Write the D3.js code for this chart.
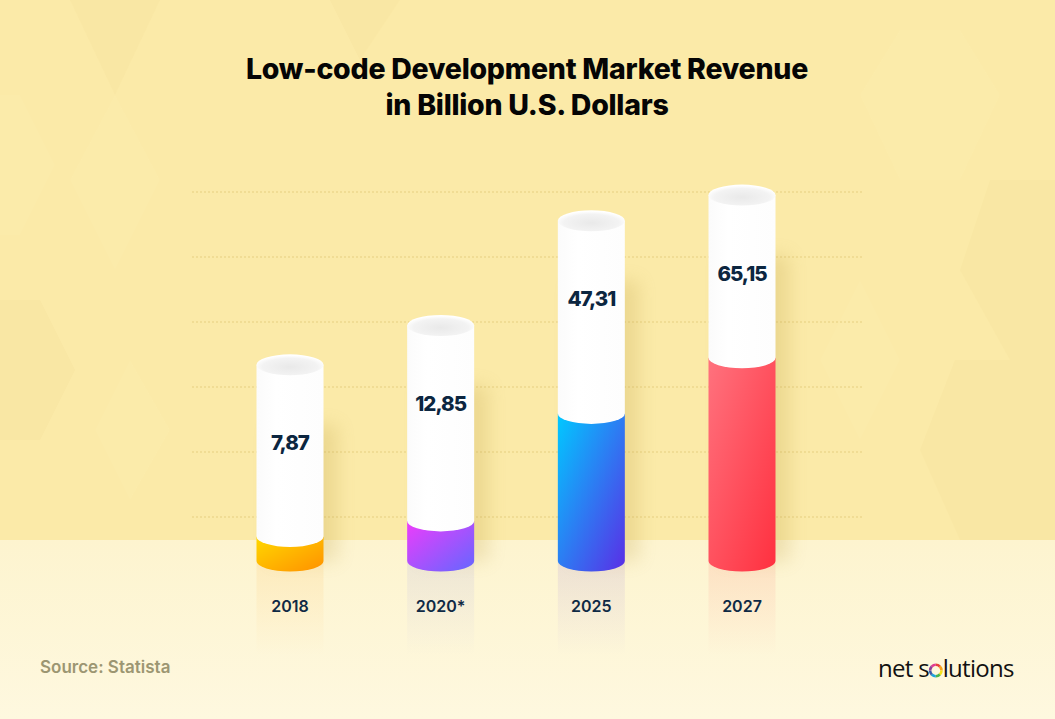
<!DOCTYPE html>
<html>
<head>
<meta charset="utf-8">
<script src="https://cdn.jsdelivr.net/npm/d3@7"></script>
<style>
  html, body { margin: 0; padding: 0; background: #fbeaa8; }
  svg { display: block; }
</style>
</head>
<body>
<svg id="chart" width="1055" height="719"></svg>
<script>
// ---------- DATA ----------
const categories = ["2018", "2020*", "2025", "2027"];
const values = [7.87, 12.85, 47.31, 65.15];
const valueLabels = ["7,87", "12,85", "47,31", "65,15"];
const gridTicks = [1, 2, 3, 4, 5, 6];
const titleLines = ["Low-code Development Market Revenue", "in Billion U.S. Dollars"];
const sourceText = "Source: Statista";
const brandText = "net solutions";
const barColors = [
  ["#ffd800", "#ff9100"],
  ["#ee3cfb", "#6467ff"],
  ["#00c9ff", "#5a2ee6"],
  ["#ff727e", "#ff303f"]
];

// ---------- SETUP ----------
const W = 1055, H = 719;
const svg = d3.select("#chart");
const defs = svg.append("defs");

const baseY = 561;      // centre of the bottom ellipse
const floorY = 540;
const barW = 67;
const ry = 10.5;

const x = d3.scalePoint().domain(categories).range([290, 742]);
// liquid level (linear in value)
const y = d3.scaleLinear().domain([0, 70]).range([baseY, baseY - 70 * 3.12]);
// decorative tube height (log of value)
const yTube = d3.scaleLog().domain([1, 100]).range([baseY - 30.5, baseY - 30.5 - 369.8]);
const yGrid = d3.scaleLinear().domain([0, 6]).range([582, 192]);

// ---------- BACKGROUND ----------
const floorGrad = defs.append("linearGradient").attr("id", "floorGrad")
  .attr("x1", 0).attr("y1", 0).attr("x2", 0).attr("y2", 1);
floorGrad.append("stop").attr("offset", 0).attr("stop-color", "#fdf4cf");
floorGrad.append("stop").attr("offset", 1).attr("stop-color", "#fef8df");

svg.append("rect").attr("width", W).attr("height", floorY).attr("fill", "#fbeaa8");

// subtle hexagon / chevron facets on the wall
const facets = [
  [[0,95],[20,95],[55,165],[20,235],[0,235]],
  [[120,0],[160,0],[115,95],[70,0]],
  [[115,95],[160,180],[115,270],[70,180]],
  [[330,0],[400,0],[360,60]],
  [[900,30],[960,30],[1000,95],[960,180],[900,180],[860,95]],
  [[990,180],[1055,180],[1055,360],[1010,360],[960,270]],
  [[860,280],[900,360],[860,440],[820,360]],
  [[0,300],[40,300],[75,370],[40,440],[0,440]],
  [[130,360],[170,430],[130,500],[95,430]],
  [[955,360],[1055,360],[1055,540],[960,540],[920,450]]
];
svg.append("g").selectAll("path").data(facets).join("path")
  .attr("d", d => "M" + d.map(p => p.join(",")).join("L") + "Z")
  .attr("fill", (d, i) => i % 2 ? "#efd98a" : "#fff3bd")
  .attr("opacity", 0.12);

svg.append("rect").attr("y", floorY).attr("width", W).attr("height", H - floorY)
  .attr("fill", "url(#floorGrad)");

// ---------- GRIDLINES ----------
svg.append("g").selectAll("line").data(gridTicks).join("line")
  .attr("x1", 192).attr("x2", 863)
  .attr("y1", d => yGrid(d)).attr("y2", d => yGrid(d))
  .attr("stroke", "#e6cf80").attr("stroke-width", 1)
  .attr("stroke-dasharray", "2,2");

// ---------- TITLE ----------
svg.append("g").selectAll("text").data(titleLines).join("text")
  .attr("x", 527).attr("y", (d, i) => 79 + i * 36)
  .attr("text-anchor", "middle")
  .attr("font-family", "Inter, 'Open Sans', sans-serif")
  .attr("font-weight", 800).attr("font-size", 28.5)
  .attr("letter-spacing", -0.25)
  .attr("fill", "#050505")
  .text(d => d);

// ---------- GRADIENTS ----------
barColors.forEach((c, i) => {
  const g = defs.append("linearGradient").attr("id", "bg" + i)
    .attr("x1", 0).attr("y1", 0).attr("x2", 1).attr("y2", 1);
  g.append("stop").attr("offset", 0).attr("stop-color", c[0]);
  g.append("stop").attr("offset", 1).attr("stop-color", c[1]);
  const r = defs.append("linearGradient").attr("id", "rf" + i)
    .attr("x1", 0).attr("y1", 0).attr("x2", 0).attr("y2", 1);
  r.append("stop").attr("offset", 0).attr("stop-color", c[1]).attr("stop-opacity", 0.10);
  r.append("stop").attr("offset", 1).attr("stop-color", c[1]).attr("stop-opacity", 0);
});
const capGrad = defs.append("radialGradient").attr("id", "capGrad")
  .attr("cx", 0.5).attr("cy", 0.6).attr("r", 0.55);
capGrad.append("stop").attr("offset", 0).attr("stop-color", "#e9e9e9");
capGrad.append("stop").attr("offset", 0.75).attr("stop-color", "#f3f3f3");
capGrad.append("stop").attr("offset", 1).attr("stop-color", "#ffffff");

const tubeGrad = defs.append("linearGradient").attr("id", "tubeGrad")
  .attr("x1", 0).attr("y1", 0).attr("x2", 1).attr("y2", 0);
tubeGrad.append("stop").attr("offset", 0).attr("stop-color", "#fbfbfb");
tubeGrad.append("stop").attr("offset", 0.3).attr("stop-color", "#ffffff");
tubeGrad.append("stop").attr("offset", 1).attr("stop-color", "#fdfdfd");

const blur = defs.append("filter").attr("id", "blur")
  .attr("x", "-50%").attr("y", "-50%").attr("width", "200%").attr("height", "200%");
blur.append("feGaussianBlur").attr("stdDeviation", 9);

// ---------- BARS ----------
const data = categories.map((c, i) => ({ c, v: values[i], label: valueLabels[i], i }));

const bars = svg.append("g").selectAll("g.bar").data(data).join("g").attr("class", "bar");

// reflection on the floor
bars.append("rect")
  .attr("x", d => x(d.c) - barW / 2).attr("width", barW)
  .attr("y", baseY).attr("height", 95)
  .attr("fill", d => `url(#rf${d.i})`);

// soft shadow on the wall
bars.append("rect")
  .attr("x", d => x(d.c) - barW / 2 + 14).attr("width", barW)
  .attr("y", d => yTube(d.v) + 60)
  .attr("height", d => baseY - (yTube(d.v) + 60))
  .attr("fill", "#b99a3c").attr("opacity", 0.22)
  .attr("filter", "url(#blur)");

// coloured part
bars.append("path")
  .attr("d", d => {
    const cx = x(d.c), l = cx - barW / 2, r = cx + barW / 2, top = y(d.v);
    return `M${l},${top} L${l},${baseY} A${barW / 2},${ry} 0 0 0 ${r},${baseY} L${r},${top} Z`;
  })
  .attr("fill", d => `url(#bg${d.i})`);

// white tube
bars.append("path")
  .attr("d", d => {
    const cx = x(d.c), l = cx - barW / 2, r = cx + barW / 2;
    const top = yTube(d.v), bot = y(d.v);
    return `M${l},${top} L${l},${bot} A${barW / 2},${ry} 0 0 0 ${r},${bot} L${r},${top} Z`;
  })
  .attr("fill", "url(#tubeGrad)");

// top cap
bars.append("ellipse")
  .attr("cx", d => x(d.c)).attr("cy", d => yTube(d.v))
  .attr("rx", barW / 2).attr("ry", ry)
  .attr("fill", "url(#capGrad)");

// value labels
bars.append("text")
  .attr("x", d => x(d.c)).attr("y", d => yTube(d.v) + 78)
  .attr("text-anchor", "middle").attr("dominant-baseline", "central")
  .attr("font-family", "Inter, sans-serif").attr("font-weight", 800)
  .attr("font-size", 20.5).attr("letter-spacing", -1)
  .attr("fill", "#0c2640")
  .text(d => d.label);

// category labels
bars.append("text")
  .attr("x", d => x(d.c)).attr("y", 606)
  .attr("text-anchor", "middle").attr("dominant-baseline", "central")
  .attr("font-family", "Inter, sans-serif").attr("font-weight", 600)
  .attr("font-size", 16)
  .attr("fill", "#0f2a45")
  .text(d => d.c);

// ---------- FOOTER ----------
svg.append("text")
  .attr("x", 40).attr("y", 673)
  .attr("font-family", "Inter, sans-serif").attr("font-weight", 600)
  .attr("font-size", 17).attr("fill", "#9c9672")
  .text(sourceText);

const brand = svg.append("text")
  .attr("x", 878).attr("y", 677)
  .attr("font-family", "'Open Sans', sans-serif").attr("font-weight", 500)
  .attr("font-size", 24).attr("letter-spacing", -0.7)
  .attr("fill", "#111111");
brand.append("tspan").text(brandText.slice(0, 5));
brand.append("tspan").attr("fill-opacity", 0).text(brandText.slice(5, 6));
brand.append("tspan").text(brandText.slice(6));

// colour ring replacing the "o"
const ext = brand.node().getExtentOfChar(5);
const rcx = ext.x + ext.width / 2, rcy = 677 - 6.5;
const ringColors = ["#e9413b", "#f7a21b", "#f4e21c", "#4bb74a", "#1fa3dc", "#3a58a8", "#8b3f97", "#e23c8f"];
const arc = d3.arc().innerRadius(4.4).outerRadius(7);
const pie = d3.pie().value(1).sort(null);
svg.append("g").attr("transform", `translate(${rcx},${rcy})`)
  .selectAll("path").data(pie(ringColors)).join("path")
  .attr("d", arc).attr("fill", (d, i) => ringColors[i]);
</script>
</body>
</html>
